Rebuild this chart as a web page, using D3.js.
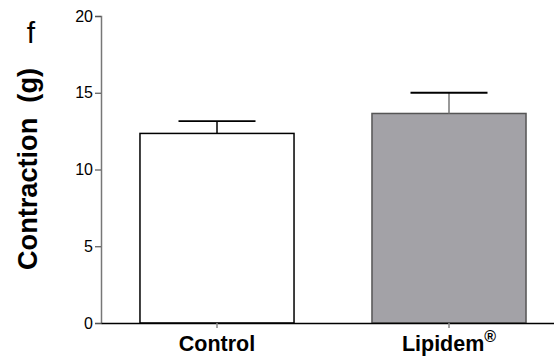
<!DOCTYPE html>
<html><head><meta charset="utf-8">
<script src="https://cdn.jsdelivr.net/npm/d3@7"></script>
<style>body{margin:0;background:#fff}svg{display:block}</style>
</head><body>
<script>
const categories = ["Control", "Lipidem"];
const means = [12.35, 13.65];
const errors = [0.8, 1.35];
const yTicks = [0, 5, 10, 15, 20];
const fills = ["#ffffff", "#a3a2a7"];
const strokes = ["#000000", "#555555"];
const stemColors = ["#000000", "#777777"];

const W = 554, H = 361;
const svg = d3.select("body").append("svg").attr("width", W).attr("height", H)
  .style("font-family", "Liberation Sans, Arial, sans-serif");

const x0 = 101, yBase = 323, yTop = 16;
const x = d3.scaleBand().domain(categories).range([x0, 565]).paddingInner(0.336).paddingOuter(0.168);
const y = d3.scaleLinear().domain([0, 20]).range([yBase, yTop]);

// bars
svg.selectAll("rect.bar").data(categories).enter().append("rect")
  .attr("x", d => x(d)).attr("width", x.bandwidth())
  .attr("y", (d, i) => y(means[i])).attr("height", (d, i) => yBase - y(means[i]))
  .attr("fill", (d, i) => fills[i]).attr("stroke", (d, i) => strokes[i]).attr("stroke-width", 1.5);

// error bars
categories.forEach((c, i) => {
  const cx = x(c) + x.bandwidth() / 2;
  svg.append("line").attr("x1", cx).attr("x2", cx)
    .attr("y1", y(means[i])).attr("y2", y(means[i] + errors[i]))
    .attr("stroke", stemColors[i]).attr("stroke-width", 1.5);
  svg.append("line").attr("x1", cx - 38.5).attr("x2", cx + 38.5)
    .attr("y1", y(means[i] + errors[i])).attr("y2", y(means[i] + errors[i]))
    .attr("stroke", "#000").attr("stroke-width", 1.8);
});

// y axis
const ya = svg.append("g").attr("transform", `translate(${x0},0)`)
  .call(d3.axisLeft(y).tickValues(yTicks).tickSize(6).tickPadding(2));
ya.attr("font-size", null).attr("font-family", null);
ya.select(".domain").attr("stroke", "#777").attr("stroke-width", 1.5);
ya.selectAll(".tick line").attr("stroke", "#555").attr("stroke-width", 1.2);
ya.selectAll(".tick text").style("font-size", "16px").attr("fill", "#000");

// x axis
const xa = svg.append("g").attr("transform", `translate(0,${yBase})`)
  .call(d3.axisBottom(x).tickSize(5).tickSizeOuter(0).tickFormat(""));
xa.select(".domain").attr("stroke", "#000").attr("stroke-width", 1.5);
xa.selectAll(".tick line").attr("stroke", "#888").attr("stroke-width", 1.5);

// category labels
categories.forEach((c, i) => {
  const cx = x(c) + x.bandwidth() / 2;
  const t = svg.append("text").attr("x", cx).attr("y", 350.5)
    .attr("text-anchor", "middle").style("font-size", "21.5px").attr("font-weight", "bold").text(c);
  if (c === "Lipidem") {
    t.append("tspan").style("font-size", "16px").attr("dy", -9).attr("dx", 0).text("®");
  }
});

// y label
svg.append("text").attr("transform", "translate(37,169) rotate(-90)")
  .attr("text-anchor", "middle").style("font-size", "28px").attr("font-weight", "bold")
  .attr("textLength", 202).attr("lengthAdjust", "spacingAndGlyphs")
  .text("Contraction\u00a0\u00a0(g)");

// panel letter
svg.append("text").attr("x", 31).attr("y", 43).attr("text-anchor", "middle")
  .style("font-size", "30px").text("f");
</script>
</body></html>
